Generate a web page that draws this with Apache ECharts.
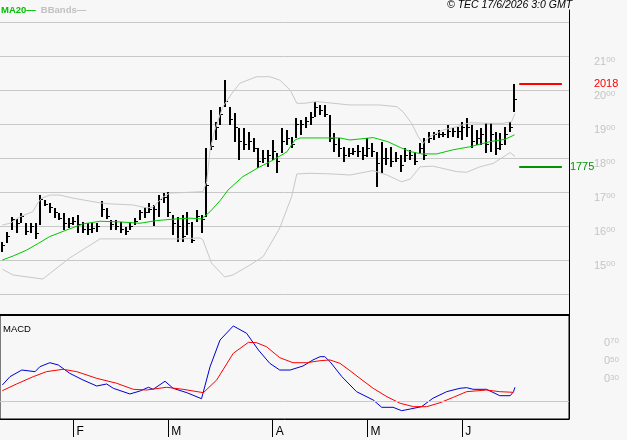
<!DOCTYPE html>
<html><head><meta charset="utf-8">
<script src="https://cdn.jsdelivr.net/npm/echarts@6/dist/echarts.min.js"></script>
<style>html,body{margin:0;padding:0;background:#f7f7f7}#c{width:627px;height:440px}</style>
</head><body><div id="c"></div>
<script>
// ---- price bars (euros), one per trading day ----
const high  = [15.54,15.83,16.27,16.20,16.38,16.09,16.09,16.09,16.91,16.76,16.67,16.53,16.38,16.38,16.24,16.27,16.32,16.12,16.09,16.09,
               16.09,16.73,16.53,16.18,16.18,16.12,15.97,16.12,16.24,16.47,16.56,16.67,16.62,16.91,16.97,17.00,16.32,16.27,16.32,16.41,
               16.12,16.47,16.32,18.29,19.41,19.06,19.51,20.29,19.51,19.32,18.88,18.88,18.77,18.59,18.29,18.24,18.24,18.53,18.15,18.88,
               18.82,18.63,19.18,19.12,19.22,19.36,19.66,19.56,19.56,19.26,18.73,18.59,18.32,18.29,18.29,18.38,18.32,18.59,18.44,18.18,
               18.47,18.29,18.32,18.18,18.09,18.29,18.24,18.18,18.44,18.59,18.76,18.76,18.82,18.76,18.97,18.88,18.91,19.06,19.18,18.97,
               18.82,18.88,19.03,19.03,18.76,18.73,18.91,19.06,20.18];
const low   = [15.25,15.49,15.88,15.79,16.09,15.74,15.80,15.61,16.03,16.59,16.38,16.24,16.18,15.88,15.94,16.03,15.79,15.79,15.74,15.79,
               15.82,16.27,16.21,15.88,15.88,15.79,15.74,15.88,16.03,16.18,16.24,16.38,16.00,16.27,16.67,16.27,15.74,15.53,15.53,15.74,
               15.50,16.12,15.79,16.27,18.24,18.53,18.97,19.51,18.97,18.48,17.94,18.24,18.24,18.18,17.71,17.85,17.75,17.94,17.56,18.15,
               18.38,18.29,18.59,18.68,18.87,18.97,19.22,19.26,19.22,18.48,18.18,18.03,17.88,18.03,18.09,18.03,17.94,18.03,18.03,17.15,
               17.56,17.79,17.74,17.88,17.59,17.88,17.94,17.79,18.15,17.94,18.44,18.53,18.59,18.62,18.59,18.62,18.59,18.53,18.62,18.29,
               18.38,18.38,18.15,18.18,18.09,18.24,18.38,18.76,19.36];
const close = [15.45,15.70,16.20,16.10,16.30,15.85,16.00,15.80,16.80,16.65,16.55,16.40,16.25,16.10,16.10,16.15,16.05,15.90,15.90,15.95,
               16.00,16.50,16.30,16.05,16.00,15.90,15.85,16.00,16.15,16.40,16.40,16.50,16.50,16.80,16.85,16.40,16.10,16.00,15.70,16.10,
               15.60,16.30,16.20,17.20,18.35,18.90,19.30,19.69,19.15,18.90,18.50,18.40,18.50,18.30,17.90,18.00,18.10,18.20,17.90,18.50,
               18.60,18.40,19.00,19.00,19.10,19.20,19.50,19.40,19.30,18.60,18.40,18.30,18.10,18.15,18.20,18.20,18.10,18.30,18.20,17.86,
               18.00,18.00,17.90,18.00,17.80,18.10,18.10,17.90,18.30,18.10,18.60,18.70,18.70,18.70,18.80,18.80,18.80,18.90,18.90,18.50,
               18.60,18.70,18.40,18.70,18.30,18.40,18.70,18.90,19.73];

// ---- indicator lines: [bar index, value] ----
const ma20 = [[0,15.00],[2.3,15.12],[5.1,15.29],[7.6,15.49],[10,15.69],[13.5,15.88],[17,16.06],[20.6,16.14],[24.8,16.12],[29,16.08],
              [32.5,16.16],[36.8,16.21],[39.6,16.23],[42,16.21],[43.8,16.42],[46,16.76],[47.6,17.06],[50.7,17.45],[53.9,17.71],[57.1,17.94],
              [60,18.18],[61.7,18.53],[62.8,18.59],[67.6,18.59],[71.2,18.59],[73.3,18.53],[78.2,18.60],[81.3,18.48],[83.9,18.31],[86,18.19],
              [88.4,18.12],[91.6,18.12],[95,18.24],[98.6,18.33],[102.8,18.48],[106,18.55],[108,18.68]];
const bbUpper = [[0,16.03],[1.6,16.08],[3.7,16.27],[6.4,16.42],[7.5,16.68],[8.3,16.82],[10,16.91],[12.1,16.91],[14.9,16.82],[20.6,16.68],
                 [22.7,16.65],[27.5,16.62],[30.5,16.53],[31.8,16.56],[33.9,16.85],[35.3,16.97],[37.4,16.98],[42.3,17.01],[43.1,17.30],[43.8,18.24],
                 [44.8,18.82],[46.5,19.51],[48.4,19.90],[50.1,20.20],[53.6,20.39],[56.4,20.39],[58.5,20.29],[60.7,20.00],[62.1,19.61],[63.8,19.61],
                 [66.3,19.66],[69.7,19.61],[73.3,19.56],[79.6,19.56],[83.2,19.51],[84.5,19.36],[86.3,19.02],[87.7,18.63],[88.7,18.43],[90.2,18.63],
                 [92.9,18.82],[95.8,18.92],[98.6,19.04],[102.2,19.02],[105.6,19.02],[107.4,19.07],[108.1,19.31]];
const bbLower = [[0,14.73],[2.2,14.56],[8.5,14.44],[14.2,15.06],[20.6,15.62],[28.4,15.62],[37.4,15.62],[41.7,15.65],[42.3,15.59],[44.1,14.91],
                 [46.9,14.50],[48.6,14.56],[52.2,14.85],[55,15.10],[58.5,15.94],[61,16.86],[62.1,17.53],[64.9,17.55],[69.7,17.53],[73.3,17.50],
                 [78.2,17.63],[81.1,17.50],[84.2,17.30],[86,17.38],[88.1,17.74],[90.8,17.76],[95.8,17.60],[97.9,17.58],[100.7,17.74],[103.5,17.84],
                 [107.1,18.16],[108.1,18.04]];
const macd = [[0,0.175],[1.6,0.266],[4.1,0.339],[6.9,0.321],[7.2,0.31],[7.9,0.375],[10,0.419],[11.8,0.394],[14.2,0.303],[17,0.23],
              [19.9,0.164],[22,0.186],[23.4,0.139],[26.9,0.077],[29,0.109],[30.8,0.15],[31.8,0.128],[34.3,0.216],[36,0.139],[38.9,0.091],
              [42,0.025],[43.8,0.375],[45.9,0.667],[48.7,0.821],[51.5,0.741],[54,0.558],[56.4,0.412],[58.5,0.339],[60.7,0.339],[63.4,0.383],
              [65.5,0.449],[67,0.485],[68,0.485],[69.1,0.43],[71.6,0.266],[74.7,0.102],[78.2,0.011],[80,-0.069],[82.4,-0.069],[84.2,-0.106],
              [86,-0.088],[88.4,-0.062],[90.8,0.03],[93.7,0.102],[96.5,0.139],[97.9,0.146],[99.3,0.128],[102.1,0.128],[104.9,0.058],[107.1,0.058],
              [107.8,0.102],[108.1,0.15]];
const signal = [[0,0.113],[3,0.186],[6.5,0.266],[9.3,0.321],[12.8,0.347],[15.7,0.321],[19.9,0.248],[24.1,0.194],[27.6,0.128],[30.4,0.12],
                [34.6,0.15],[38.1,0.128],[42.4,0.091],[45.2,0.23],[48.7,0.522],[51.9,0.642],[53.6,0.638],[55.7,0.594],[58.5,0.474],[61.3,0.419],
                [64.2,0.419],[67,0.441],[69.1,0.449],[71.2,0.412],[73.3,0.332],[75.4,0.248],[78.2,0.139],[81.1,0.047],[83.9,-0.025],[86.7,-0.062],
                [89.5,-0.062],[92.3,-0.019],[95.1,0.04],[97.9,0.102],[102.1,0.12],[104.9,0.102],[107.8,0.095]];

// ---- levels and axis text ----
const resistance = 20.18, support = 17.75;
const monthTickIdx = [15, 35, 57, 77, 97];
const monthLabels  = ['F', 'M', 'A', 'M', 'J'];
const priceTicks = [15, 16, 17, 18, 19, 20, 21];
const macdTicks = [0.3, 0.5, 0.7];

const FONT = 'Liberation Sans';
const GRAY = '#c4c4c4';
const N = high.length;
const bars = high.map((h, i) => [i, h, low[i], close[i]]);
const supDigits = v => { const s = v.toFixed(2).split('.'); return '{a|' + s[0] + '}{b|' + s[1] + '}'; };
const labelRich = {
  a: { fontSize: 11, fontFamily: FONT, color: GRAY, lineHeight: 12, verticalAlign: 'top' },
  b: { fontSize: 8, fontFamily: FONT, color: GRAY, lineHeight: 12, verticalAlign: 'top', padding: [0, 0, 3, 0] }
};
const X0 = -0.5, X1 = 119.5;

const chart = echarts.init(document.getElementById('c'), null, { renderer: 'canvas' });
chart.setOption({
  backgroundColor: '#f7f7f7',
  animation: false,
  title: [
    { text: '© TEC 17/6/2026 3:0 GMT', left: 447, top: 0, padding: 0,
      textStyle: { fontSize: 10.5, fontStyle: 'italic', fontWeight: 'normal', color: '#000', fontFamily: FONT } },
    { text: '{g|MA20—} {s|BBands—}', left: 1, top: 1, padding: 0,
      textStyle: { rich: { g: { fontSize: 9.5, color: '#00c000', fontFamily: FONT }, s: { fontSize: 9.5, color: '#c0c0c0', fontFamily: FONT } } } },
    { text: 'MACD', left: 3, top: 324, padding: 0,
      textStyle: { fontSize: 9.5, fontWeight: 'normal', color: '#000', fontFamily: FONT } }
  ],
  grid: [
    { left: 0, width: 569, top: 22, height: 272 },
    { left: 0, width: 569, top: 315, height: 104 },
    { left: 0, width: 569, top: 10, height: 305 },
    { left: -3, width: 572, top: 315, height: 104, show: true, borderColor: '#000', borderWidth: 1, backgroundColor: 'transparent' }
  ],
  xAxis: [
    { type: 'value', gridIndex: 0, min: X0, max: X1, show: false },
    { type: 'value', gridIndex: 1, min: X0, max: X1, position: 'bottom',
      axisLine: { show: true, onZero: false, lineStyle: { color: '#000', width: 1 } },
      axisTick: { show: true, length: 18, customValues: monthTickIdx, lineStyle: { color: '#000', width: 1 } },
      axisLabel: { customValues: monthTickIdx, margin: 7, align: 'left', verticalAlign: 'top', padding: [0, 0, 0, 3],
        fontSize: 12, color: '#000', fontFamily: FONT,
        formatter: v => monthLabels[monthTickIdx.indexOf(Math.round(v))] || '' },
      splitLine: { show: false } },
    { type: 'value', gridIndex: 1, min: X0, max: X1, position: 'top',
      axisLine: { show: true, onZero: false, lineStyle: { color: '#000', width: 2 } },
      axisTick: { show: false }, axisLabel: { show: false }, splitLine: { show: false } },
    { type: 'value', gridIndex: 2, min: 0, max: 1, show: false },
    { type: 'value', gridIndex: 3, min: 0, max: 1, show: false }
  ],
  yAxis: [
    { type: 'value', gridIndex: 0, min: 14, max: 22, interval: 1, position: 'right',
      axisLine: { show: false, onZero: false }, axisTick: { show: false },
      splitLine: { show: true, lineStyle: { color: '#c8c8c8', width: 1 } },
      axisLabel: { margin: 25, align: 'left', verticalAlign: 'top', rich: labelRich,
        formatter: v => priceTicks.indexOf(Math.round(v)) >= 0 ? supDigits(v) : '' } },
    { type: 'value', gridIndex: 1, min: -0.197, max: 0.941, position: 'right',
      axisLine: { show: true, onZero: false, lineStyle: { color: '#000', width: 1 } }, axisTick: { show: false },
      splitLine: { show: false },
      axisLabel: { customValues: macdTicks, margin: 50, align: 'right', verticalAlign: 'top', rich: labelRich,
        formatter: v => supDigits(v) } },
    { type: 'value', gridIndex: 2, min: 0, max: 1, position: 'right',
      axisLine: { show: true, onZero: false, lineStyle: { color: '#000', width: 1 } },
      axisTick: { show: false }, axisLabel: { show: false }, splitLine: { show: false } },
    { type: 'value', gridIndex: 3, min: 0, max: 1, show: false }
  ],
  series: [
    { type: 'line', name: 'BB up', xAxisIndex: 0, yAxisIndex: 0, data: bbUpper, symbol: 'none',
      lineStyle: { color: '#c8c8c8', width: 1 }, silent: true },
    { type: 'line', name: 'BB low', xAxisIndex: 0, yAxisIndex: 0, data: bbLower, symbol: 'none',
      lineStyle: { color: '#c8c8c8', width: 1 }, silent: true },
    { type: 'line', name: 'MA20', xAxisIndex: 0, yAxisIndex: 0, data: ma20, symbol: 'none',
      lineStyle: { color: '#00c800', width: 1 }, silent: true },
    { type: 'custom', name: 'bars', xAxisIndex: 0, yAxisIndex: 0, data: bars, silent: true,
      renderItem: (params, api) => {
        const i = api.value(0);
        const hi = api.coord([i, api.value(1)]);
        const lo = api.coord([i, api.value(2)]);
        const cl = api.coord([i, api.value(3)]);
        const px = Math.round(hi[0]);
        const cy = Math.round(cl[1]) + 0.5;
        return { type: 'group', children: [
          { type: 'line', shape: { x1: px, y1: Math.round(hi[1]), x2: px, y2: Math.round(lo[1]) }, style: { stroke: '#000', lineWidth: 2 } },
          { type: 'line', shape: { x1: px + 1, y1: cy, x2: px + 3, y2: cy }, style: { stroke: '#000', lineWidth: 1 } }
        ] };
      },
      markLine: { silent: true, symbol: 'none', animation: false,
        data: [
          [ { coord: [N, resistance], lineStyle: { color: '#ff0000', width: 2, type: 'solid' },
              label: { show: true, position: 'end', distance: 32, color: '#ff0000', fontSize: 11, fontFamily: FONT,
                       formatter: () => resistance.toFixed(2).replace('.', '') } },
            { coord: [N + 9, resistance] } ],
          [ { coord: [N, support], lineStyle: { color: '#009600', width: 2, type: 'solid' },
              label: { show: true, position: 'end', distance: 8, color: '#009600', fontSize: 11, fontFamily: FONT,
                       formatter: () => support.toFixed(2).replace('.', '') } },
            { coord: [N + 9, support] } ]
        ] } },
    { type: 'line', name: 'MACD', xAxisIndex: 1, yAxisIndex: 1, data: macd, symbol: 'none',
      lineStyle: { color: '#0000d0', width: 1 }, silent: true,
      markLine: { silent: true, symbol: 'none', label: { show: false },
        lineStyle: { color: '#c8c8c8', width: 1, type: 'solid' }, data: [ { yAxis: 0 } ] } },
    { type: 'line', name: 'Signal', xAxisIndex: 1, yAxisIndex: 1, data: signal, symbol: 'none',
      lineStyle: { color: '#ff0000', width: 1 }, silent: true }
  ]
});
</script>
</body></html>
